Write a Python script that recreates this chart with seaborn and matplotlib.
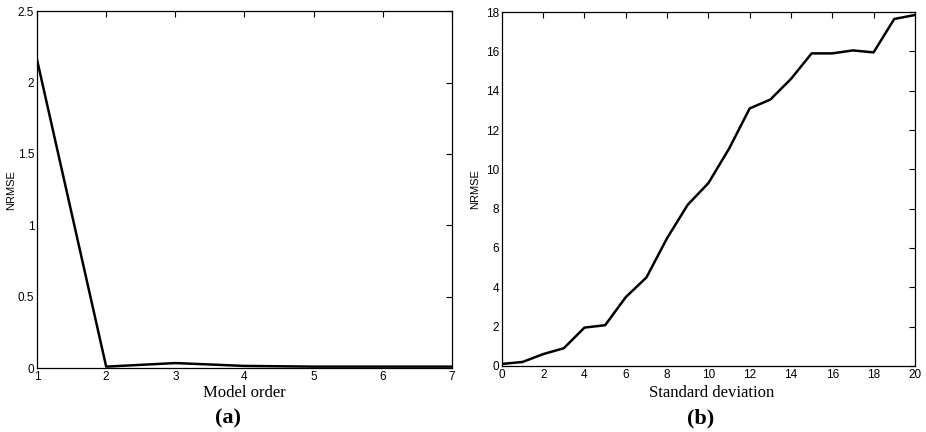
import matplotlib
matplotlib.use("Agg")
import matplotlib.pyplot as plt
import seaborn as sns
import pandas as pd

# panel (a): NRMSE vs model order
model_order = [1, 2, 3, 4, 5, 6, 7]
nrmse_order = [2.16, 0.01, 0.035, 0.015, 0.01, 0.01, 0.01]

# panel (b): NRMSE vs standard deviation
std_dev = list(range(0, 21))
nrmse_std = [0.1, 0.2, 0.6, 0.9, 1.95, 2.07, 3.5, 4.5, 6.5, 8.2, 9.3,
             11.05, 13.1, 13.55, 14.6, 15.9, 15.9, 16.05, 15.95, 17.65, 17.85]

df_a = pd.DataFrame({"order": model_order, "nrmse": nrmse_order})
df_b = pd.DataFrame({"std": std_dev, "nrmse": nrmse_std})

sns.set_style("white")
plt.rcParams['font.family'] = ['Liberation Sans', 'DejaVu Sans']
plt.rcParams['text.color'] = 'black'
plt.rcParams['axes.labelcolor'] = 'black'

fig = plt.figure(figsize=(9.26, 4.32), dpi=100)
ax1 = fig.add_axes([0.040, 0.148, 0.448, 0.826])
ax2 = fig.add_axes([0.542, 0.153, 0.446, 0.819])

sns.lineplot(data=df_a, x="order", y="nrmse", ax=ax1, color="black", linewidth=1.8)
sns.lineplot(data=df_b, x="std", y="nrmse", ax=ax2, color="black", linewidth=1.8)

ax1.set_xlim(1, 7)
ax1.set_ylim(0, 2.5)
ax1.set_xticks(model_order)
ax1.set_yticks([0, 0.5, 1, 1.5, 2, 2.5])
ax1.set_yticklabels(["0", "0.5", "1", "1.5", "2", "2.5"])

ax2.set_xlim(0, 20)
ax2.set_ylim(0, 18)
ax2.set_xticks(range(0, 21, 2))
ax2.set_yticks(range(0, 19, 2))

for ax in (ax1, ax2):
    ax.tick_params(direction="in", top=True, right=True, length=4, width=0.8,
                   labelsize=8.5, pad=2, colors="black")
    for s in ax.spines.values():
        s.set_color("black")
        s.set_linewidth(0.9)
    ax.set_xlabel("")
    ax.set_ylabel("NRMSE", fontsize=8, labelpad=2, color="black")

ax1.yaxis.set_label_coords(-0.05, 0.5)
ax2.yaxis.set_label_coords(-0.052, 0.5)

serif = ['Liberation Serif', 'DejaVu Serif']
fig.text(0.2635, 1 - 393 / 432, "Model order", ha="center", va="center",
         fontsize=12, family=serif)
fig.text(0.246, 1 - 418 / 432, "(a)", ha="center", va="center",
         fontsize=16, fontweight="bold", family=serif)
fig.text(0.769, 1 - 393 / 432, "Standard deviation", ha="center", va="center",
         fontsize=12, family=serif)
fig.text(0.757, 1 - 418 / 432, "(b)", ha="center", va="center",
         fontsize=16, fontweight="bold", family=serif)

fig.savefig("out.png", dpi=100)
